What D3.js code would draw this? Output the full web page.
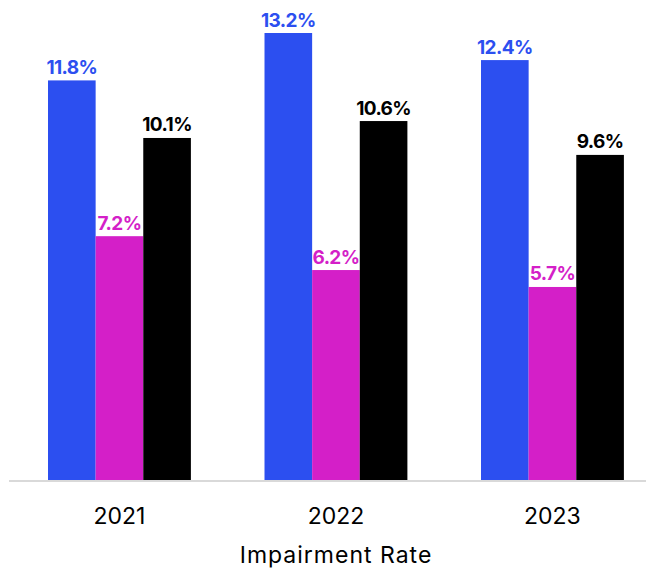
<!DOCTYPE html>
<html><head><meta charset="utf-8">
<script src="https://cdn.jsdelivr.net/npm/d3@7/dist/d3.min.js"></script>
<style>body{margin:0;background:#fff}svg{display:block}</style>
</head><body><svg id="c" width="646" height="570"></svg>
<script>
const years = ["2021","2022","2023"];
const seriesNames = ["A","B","C"];
const seriesA = [11.8, 13.2, 12.4];
const seriesB = [7.2, 6.2, 5.7];
const seriesC = [10.1, 10.6, 9.6];
const colors = ["#2c4ff0","#d41fc8","#000000"];
const xTitle = "Impairment Rate";

const svg = d3.select("#c");
const baseY = 480;
const y = d3.scaleLinear().domain([0, 13.2]).range([baseY, 33]);
const x = d3.scaleBand().domain(years).range([11.2, 660.7]).paddingInner(0.34).paddingOuter(0.17);
const xs = d3.scaleBand().domain(seriesNames).range([0, x.bandwidth()]);
const vals = [seriesA, seriesB, seriesC];

const data = [];
years.forEach((yr, i) => seriesNames.forEach((s, j) => data.push({yr, s, v: vals[j][i], c: colors[j]})));

const g = svg.append("g");
g.selectAll("rect").data(data).join("rect")
  .attr("x", d => x(d.yr) + xs(d.s))
  .attr("y", d => y(d.v))
  .attr("width", xs.bandwidth())
  .attr("height", d => baseY - y(d.v))
  .attr("fill", d => d.c);

g.selectAll("text.lbl").data(data).join("text").attr("class","lbl")
  .attr("x", d => x(d.yr) + xs(d.s) + xs.bandwidth()/2)
  .attr("y", d => y(d.v) - 6.5)
  .attr("text-anchor","middle")
  .attr("font-family","Inter, 'DejaVu Sans', sans-serif")
  .attr("font-weight","700")
  .attr("font-size","19px")
  .attr("letter-spacing","-0.6px")
  .attr("fill", d => d.c)
  .text(d => d.v.toFixed(1) + "%");

const axis = d3.axisBottom(x).tickSize(0).tickPadding(27.7);
const ag = svg.append("g").attr("transform", `translate(0,${baseY})`).call(axis);
ag.select(".domain").remove();
ag.append("line").attr("x1", 9).attr("x2", 646).attr("y1", 1).attr("y2", 1).attr("stroke", "#d9d9d9").attr("stroke-width", 2);
ag.selectAll(".tick text").attr("font-family","Inter, 'DejaVu Sans', sans-serif").attr("font-size","23px").attr("fill","#000");

svg.append("text").attr("x", 336).attr("y", 563).attr("text-anchor","middle")
  .attr("font-family","Inter, 'DejaVu Sans', sans-serif").attr("font-size","23px")
  .attr("letter-spacing","1px").attr("fill","#000")
  .text(xTitle);
</script></body></html>
